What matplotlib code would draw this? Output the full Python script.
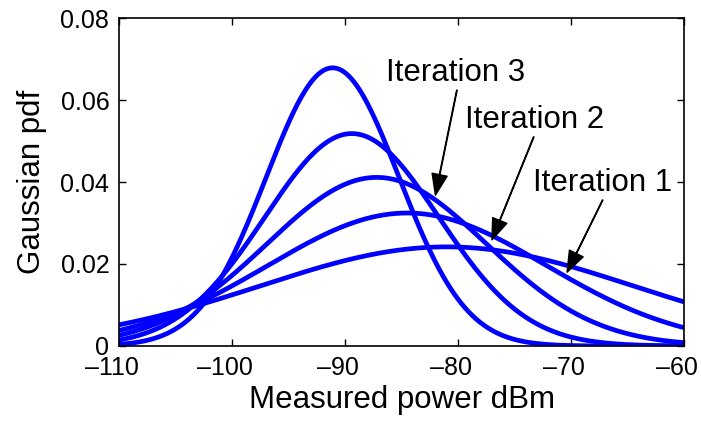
import numpy as np
import matplotlib.pyplot as plt
from matplotlib.transforms import ScaledTranslation

plt.rcParams['font.family'] = ['Liberation Sans', 'DejaVu Sans']

# Gaussian fits (one per iteration, widest first)
means = [-81.0, -84.5, -87.2, -89.4, -91.1]
stds = [16.5, 12.3, 9.7, 7.7, 5.88]

x_min, x_max = -110, -60
x_ticks = [-110, -100, -90, -80, -70, -60]
x_tick_labels = ['\u2013110', '\u2013100', '\u201390', '\u201380', '\u201370', '\u201360']
y_ticks = [0, 0.02, 0.04, 0.06, 0.08]
y_tick_labels = ['0', '0.02', '0.04', '0.06', '0.08']

labels = ['Iteration 1', 'Iteration 2', 'Iteration 3']

fig = plt.figure(figsize=(7.01, 4.24), dpi=100)
ax = fig.add_axes([0.1698, 0.184, 0.806, 0.7735])

x = np.linspace(x_min, x_max, 600)
for mu, sd in zip(means, stds):
    pdf = np.exp(-(x - mu) ** 2 / (2 * sd ** 2)) / (sd * np.sqrt(2 * np.pi))
    ax.plot(x, pdf, color='#0000ff', linewidth=3.4, solid_capstyle='butt')

ax.set_xlim(x_min, x_max)
ax.set_ylim(0, 0.08)
ax.set_xticks(x_ticks)
ax.set_xticklabels(x_tick_labels)
ax.set_yticks(y_ticks)
ax.set_yticklabels(y_tick_labels)
ax.tick_params(direction='in', length=5, width=1, labelsize=18,
               top=True, right=True, pad=7)
for s in ax.spines.values():
    s.set_linewidth(1.2)

# matlab puts the x tick labels a little left of the ticks
shift = ScaledTranslation(-7 / 100, 0, fig.dpi_scale_trans)
for lbl in ax.get_xticklabels():
    lbl.set_transform(lbl.get_transform() + shift)

ax.set_xlabel('Measured power dBm', fontsize=22.5, labelpad=4)
ax.set_ylabel('Gaussian pdf', fontsize=22.5, labelpad=10)

# text centre, arrow start, arrow tip
text_pos = [(-67.2, 0.0398), (-73.2, 0.0551), (-80.2, 0.0666)]
arrow_from = [(-67.2, 0.0356), (-73.3, 0.0510), (-80.1, 0.0624)]
arrow_to = [(-70.35, 0.0180), (-77.0, 0.0259), (-82.0, 0.0368)]

for lab, tp, a0, a1 in zip(labels, text_pos, arrow_from, arrow_to):
    ax.text(tp[0], tp[1], lab, fontsize=22.5, ha='center', va='center')
    ax.annotate('', xy=a1, xytext=a0,
                arrowprops=dict(facecolor='black', edgecolor='black',
                                width=0.4, headwidth=11, headlength=15,
                                shrink=0))

fig.savefig('out.png', dpi=100)
